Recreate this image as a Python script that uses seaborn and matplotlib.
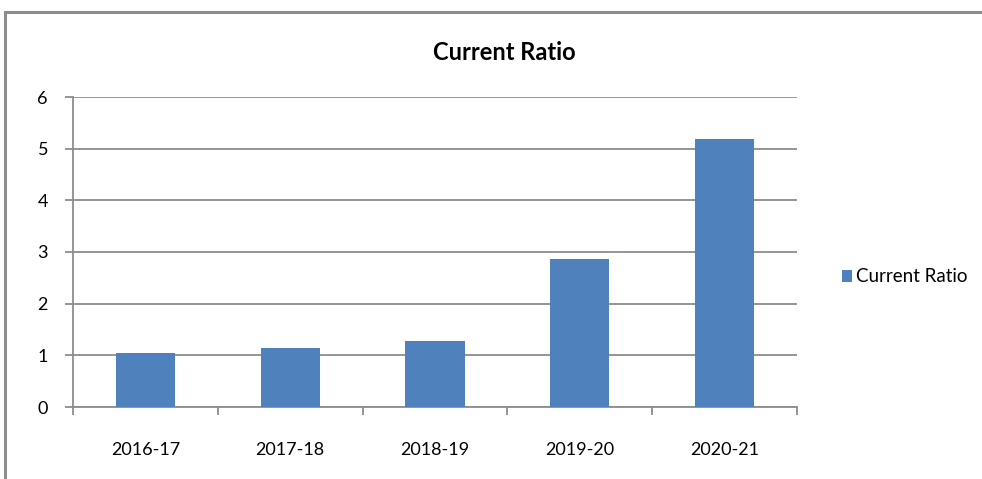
import matplotlib
matplotlib.use("Agg")
import matplotlib.pyplot as plt
import seaborn as sns
import pandas as pd
from matplotlib.patches import Rectangle, Patch

years = ["2016-17", "2017-18", "2018-19", "2019-20", "2020-21"]
current_ratio = [1.05, 1.15, 1.28, 2.87, 5.18]
series_name = "Current Ratio"
y_ticks = [0, 1, 2, 3, 4, 5, 6]

df = pd.DataFrame({"Year": years, "Value": current_ratio})

sns.set_theme(style="white")
plt.rcParams["font.family"] = ["Lato", "DejaVu Sans"]
plt.rcParams["text.color"] = "black"
plt.rcParams["xtick.color"] = "black"
plt.rcParams["ytick.color"] = "black"

fig = plt.figure(figsize=(9.82, 4.79), dpi=100)
fig.patches.append(Rectangle((5 / 982, -0.1), 1.2, (479 - 12) / 479 + 0.1,
                             transform=fig.transFigure, fill=False,
                             edgecolor="#8c8c8c", linewidth=2.2, zorder=0))
ax = fig.add_axes([73 / 982, 72 / 479, 724 / 982, 310 / 479])

bar_color = "#4f81bd"
sns.barplot(data=df, x="Year", y="Value", color=bar_color, width=0.41,
            saturation=1, ax=ax, zorder=3, linewidth=0)

ax.set_ylim(0, 6)
ax.set_xlim(-0.5, len(years) - 0.5)
ax.set_yticks(y_ticks)
ax.set_yticklabels([str(t) for t in y_ticks], fontsize=13)
ax.yaxis.grid(True, color="#8c8c8c", linewidth=1.3, zorder=0)
ax.set_axisbelow(True)
ax.set_xlabel("")
ax.set_ylabel("")

for s in ["top", "right"]:
    ax.spines[s].set_visible(False)
for s in ["left", "bottom"]:
    ax.spines[s].set_color("#8c8c8c")
    ax.spines[s].set_linewidth(1.3)

# x ticks at category boundaries, labels centered
ax.set_xticks([i for i in range(len(years))])
ax.set_xticklabels(years, fontsize=13)
ax.tick_params(axis="x", length=0, pad=25)
ax.set_xticks([i - 0.5 for i in range(len(years) + 1)], minor=True)
ax.tick_params(axis="x", which="minor", length=6, width=1.3, color="#8c8c8c",
               direction="out", bottom=True)
ax.tick_params(axis="y", length=6, width=1.3, color="#8c8c8c",
               labelcolor="black", direction="out", left=True, pad=12)

fig.text(504 / 982, 1 - 52 / 479, "Current Ratio", ha="center", va="center",
         fontsize=17, fontweight="bold", color="black")

handle = Patch(facecolor=bar_color, edgecolor="none")
fig.legend([handle], [series_name], loc="center left",
           bbox_to_anchor=(825 / 982, 1 - 277 / 479), frameon=False,
           fontsize=13.5, handlelength=0.55, handleheight=0.55,
           handletextpad=0.2, labelcolor="black")

fig.savefig("out.png", dpi=100, facecolor="white")
